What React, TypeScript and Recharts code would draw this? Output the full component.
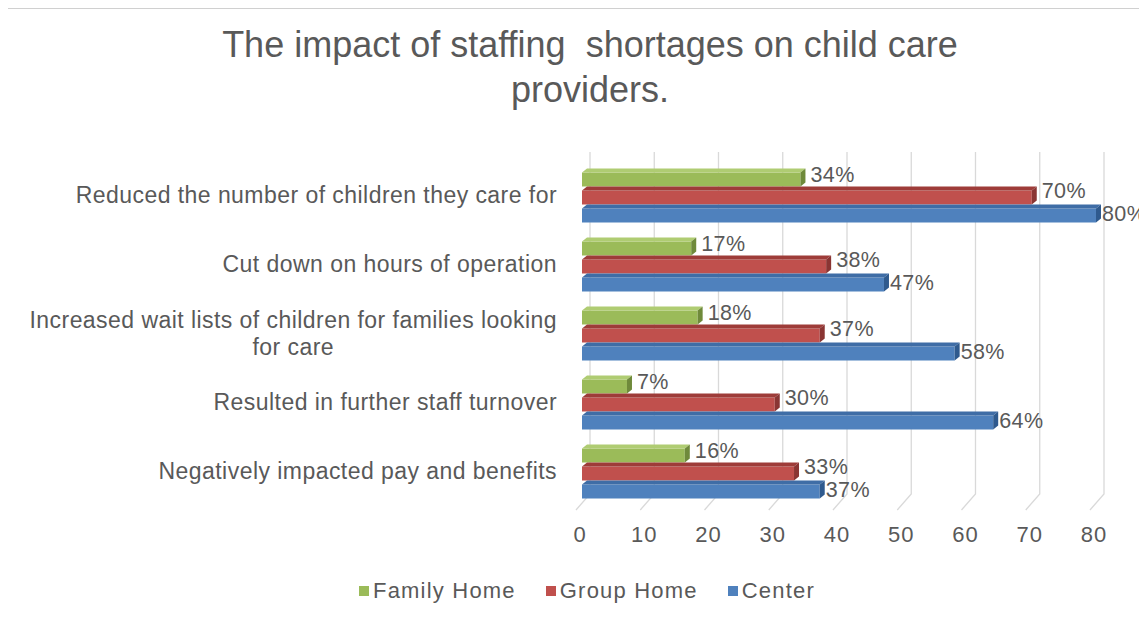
import React from "react";
import { BarChart, Bar, XAxis, YAxis, CartesianGrid, LabelList } from "recharts";

const categories = [
  "Reduced the number of children they care for",
  "Cut down on hours of operation",
  "Increased wait lists of children for families looking for care",
  "Resulted in further staff turnover",
  "Negatively impacted pay and benefits",
];
const familyHome = [34, 17, 18, 7, 16];
const groupHome = [70, 38, 37, 30, 33];
const centerVals = [80, 47, 58, 64, 37];
const xTicks = [0, 10, 20, 30, 40, 50, 60, 70, 80];
const seriesNames = ["Family Home", "Group Home", "Center"];
const titleLines = ["The impact of staffing  shortages on child care", "providers."];

const COLORS = {
  family: { front: "#9BBB59", top: "#afcc72", side: "#6f8a3b" },
  group: { front: "#C0504D", top: "#9e3c39", side: "#8a3533" },
  center: { front: "#4F81BD", top: "#3f6da6", side: "#2f5a8e" },
};
const legendColors = [COLORS.family.front, COLORS.group.front, COLORS.center.front];

const TEXT = "#595959";
const FONT = "'Liberation Sans', Arial, sans-serif";

const data = categories.map((name, i) => ({
  name,
  family: familyHome[i],
  group: groupHome[i],
  center: centerVals[i],
}));

let measureCtx: CanvasRenderingContext2D | null = null;
function measure(text: string, size: number, ls: number) {
  if (!measureCtx) {
    const c = document.createElement("canvas");
    measureCtx = c.getContext("2d");
  }
  if (!measureCtx) return text.length * size * 0.5;
  measureCtx.font = `${size}px ${FONT}`;
  return measureCtx.measureText(text).width + text.length * ls;
}

function wrap(text: string, maxChars: number) {
  const words = text.split(" ");
  const lines: string[] = [];
  let cur = "";
  for (const w of words) {
    const next = cur ? cur + " " + w : w;
    if (next.length > maxChars && cur) {
      lines.push(cur);
      cur = w;
    } else cur = next;
  }
  if (cur) lines.push(cur);
  return lines;
}

const CAT_SIZE = 23;
const CAT_LS = 0.45;

function CategoryTick(props: any) {
  const { x, y, payload } = props;
  const lines = wrap(String(payload.value), 54);
  if (lines.length === 1) {
    return (
      <text x={x} y={y} dy="0.36em" textAnchor="end" fill={TEXT} fontSize={CAT_SIZE} fontFamily={FONT} letterSpacing={CAT_LS}>
        {lines[0]}
      </text>
    );
  }
  const w0 = measure(lines[0], CAT_SIZE, CAT_LS);
  const cx = x - w0 / 2;
  const lh = 27;
  const startY = y - ((lines.length - 1) * lh) / 2;
  return (
    <g>
      {lines.map((l, i) => (
        <text key={i} x={cx} y={startY + i * lh} dy="0.36em" textAnchor="middle" fill={TEXT} fontSize={CAT_SIZE} fontFamily={FONT} letterSpacing={CAT_LS}>
          {l}
        </text>
      ))}
    </g>
  );
}

function ValueTick(props: any) {
  const { x, y, payload } = props;
  return (
    <text x={x - 2} y={y} dy={36} textAnchor="middle" fill={TEXT} fontSize={22} fontFamily={FONT} letterSpacing={1}>
      {payload.value}
    </text>
  );
}

const DX = 5;
const DY = 4;
function make3D(c: { front: string; top: string; side: string }) {
  return (p: any) => {
    const { x, y, width, height } = p;
    if (width == null || height == null) return <g />;
    const w = Math.max(0, width);
    return (
      <g>
        <rect x={x} y={y + DY} width={w} height={height - DY} fill={c.front} />
        <polygon points={`${x},${y + DY} ${x + DX},${y} ${x + w + DX},${y} ${x + w},${y + DY}`} fill={c.top} />
        <polygon points={`${x + w},${y + DY} ${x + w + DX},${y} ${x + w + DX},${y + height - DY} ${x + w},${y + height}`} fill={c.side} />
      </g>
    );
  };
}

function GridLine(p: any) {
  const { x1, y1, y2 } = p;
  const d = `M ${x1 + 8} ${y1 - 8.5} L ${x1 + 8} ${y2 - 11.5} L ${x1 - 6} ${y2 + 4.5}`;
  return <path key={p.key} d={d} stroke="#d9d9d9" strokeWidth={1.3} fill="none" />;
}

const pct = (v: any) => `${v}%`;
const labelProps = {
  position: "right" as const,
  formatter: pct,
  fill: TEXT,
  fontSize: 21.5,
  fontFamily: FONT,
  letterSpacing: 0.4,
};

export default function App() {
  return (
    <div style={{ position: "relative", width: 1147, height: 625, margin: "-8px 0 0 -8px", background: "#fff", overflow: "hidden" }}>
      <div style={{ position: "absolute", left: 0, top: 0, width: 1147, height: 7, background: "linear-gradient(#e6e6e6, #f2f2f2)" }} />
      <div style={{ position: "absolute", left: 4, top: 7, width: 1143, height: 2, background: "#d0d0d0" }} />
      <div style={{ position: "absolute", left: 4, top: 7, width: 2, height: 618, background: "#d0d0d0" }} />
      <div style={{ position: "absolute", left: 0, top: 0 }}>
        <BarChart
          width={1147}
          height={625}
          data={data}
          layout="vertical"
          margin={{ top: 160.5, right: 51, bottom: 79.5, left: 0 }}
          barCategoryGap={8}
          barGap={0}
        >
          <CartesianGrid horizontal={false} vertical={GridLine as any} stroke="#d9d9d9" />
          <XAxis
            type="number"
            domain={[0, 80]}
            ticks={xTicks}
            axisLine={false}
            tickLine={false}
            tickSize={0}
            tickMargin={0}
            height={40}
            tick={<ValueTick />}
            interval={0}
          />
          <YAxis
            type="category"
            dataKey="name"
            width={582}
            axisLine={false}
            tickLine={false}
            tickSize={0}
            tickMargin={25}
            tick={<CategoryTick />}
            interval={0}
          />
          <Bar dataKey="family" name={seriesNames[0]} fill={COLORS.family.front} shape={make3D(COLORS.family)} isAnimationActive={false}>
            <LabelList dataKey="family" {...labelProps} offset={10} dy={-3} />
          </Bar>
          <Bar dataKey="group" name={seriesNames[1]} fill={COLORS.group.front} shape={make3D(COLORS.group)} isAnimationActive={false}>
            <LabelList dataKey="group" {...labelProps} offset={10} dy={-5} />
          </Bar>
          <Bar dataKey="center" name={seriesNames[2]} fill={COLORS.center.front} shape={make3D(COLORS.center)} isAnimationActive={false}>
            <LabelList dataKey="center" {...labelProps} offset={6} dy={0} />
          </Bar>
        </BarChart>
      </div>
      <div
        style={{
          position: "absolute",
          left: 0,
          top: 22,
          width: 1180,
          textAlign: "center",
          color: TEXT,
          fontFamily: FONT,
          fontSize: 36,
          lineHeight: "45px",
          whiteSpace: "pre",
        }}
      >
        {titleLines.map((l, i) => (
          <div key={i}>{l}</div>
        ))}
      </div>
      <div
        style={{
          position: "absolute",
          left: 0,
          top: 578,
          width: 1174,
          display: "flex",
          justifyContent: "center",
          alignItems: "center",
          color: TEXT,
          fontFamily: FONT,
          fontSize: 22,
          letterSpacing: 1.2,
          lineHeight: "26px",
        }}
      >
        {seriesNames.map((n, i) => (
          <div key={n} style={{ display: "flex", alignItems: "center", marginRight: i < seriesNames.length - 1 ? 30 : 0 }}>
            <span style={{ display: "inline-block", width: 10, height: 10, background: legendColors[i], marginRight: 4 }} />
            <span>{n}</span>
          </div>
        ))}
      </div>
    </div>
  );
}
